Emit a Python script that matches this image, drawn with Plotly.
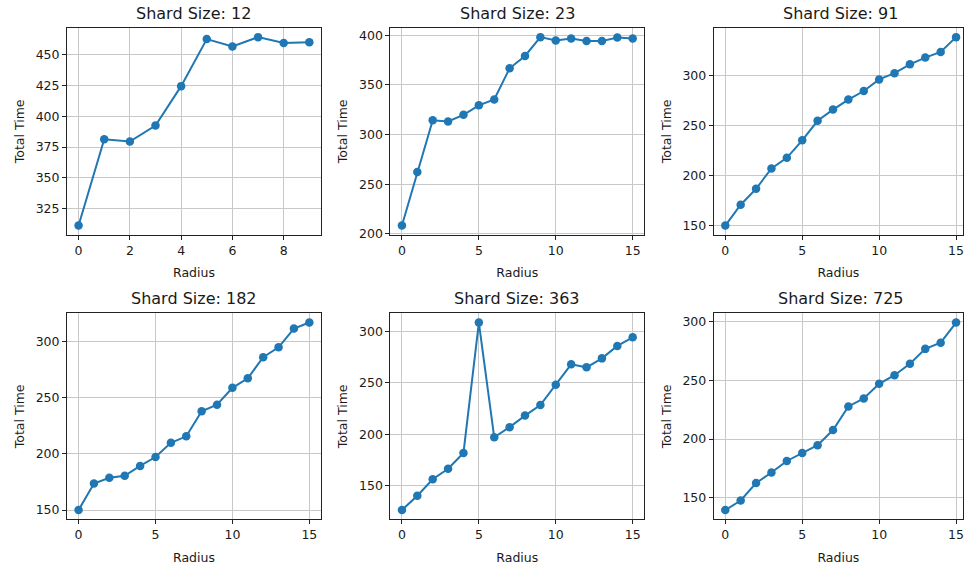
import plotly.graph_objects as go

W, H = 964, 571

shard_sizes = [12, 23, 91, 182, 363, 725]

radius_12 = list(range(10))
radius_16 = list(range(16))

time_12 = [311.4, 381.3, 379.5, 392.5, 424.4, 462.5, 456.6, 464.1, 459.3, 459.9]
time_23 = [208.4, 262.4, 314.4, 313.1, 319.8, 329.4, 335.3, 366.6, 379.1, 398.0,
           394.7, 396.7, 394.0, 394.0, 397.7, 396.7]
time_91 = [149.6, 170.5, 186.4, 206.9, 217.5, 235.0, 254.6, 265.8, 275.8, 284.4,
           296.0, 302.3, 311.2, 317.9, 323.5, 338.4]
time_182 = [150.0, 173.7, 178.7, 180.5, 189.3, 197.2, 209.8, 215.6, 237.9, 243.7,
            258.7, 267.2, 285.9, 294.7, 311.4, 316.7]
time_363 = [126.4, 140.4, 156.4, 166.6, 181.9, 308.6, 197.1, 207.0, 218.2, 228.4,
            248.2, 268.0, 265.1, 273.8, 285.9, 294.3]
time_725 = [139.6, 147.8, 162.6, 171.6, 181.4, 188.1, 194.8, 207.7, 227.8, 234.6,
            247.1, 254.4, 264.2, 276.8, 282.1, 299.2]

radii = [radius_12, radius_16, radius_16, radius_16, radius_16, radius_16]
times = [time_12, time_23, time_91, time_182, time_363, time_725]
x_dticks = [2, 5, 5, 5, 5, 5]
y_dticks = [25, 50, 50, 50, 50, 50]

# layout in pixels (matplotlib-like grid)
col_px = [(67.1, 321.2), (390.8, 644.9), (714.5, 968.6)]
row_px = [(28.0, 237.5), (316.5, 525.0)]

FONT = "DejaVu Sans"
TXT = "#1a1a1a"
BLUE = "#1f77b4"

fig = go.Figure()
for i in range(6):
    r, c = divmod(i, 3)
    n = i + 1
    xs, ys = radii[i], times[i]
    fig.add_trace(go.Scatter(
        x=xs, y=ys, mode="lines+markers",
        line=dict(color=BLUE, width=2),
        marker=dict(color=BLUE, size=8.5),
        xaxis=f"x{n}", yaxis=f"y{n}", showlegend=False,
        cliponaxis=False,
    ))
    x0p, x1p = col_px[c]
    y0p, y1p = row_px[r]
    xmin, xmax = min(xs), max(xs)
    xm = 0.05 * (xmax - xmin)
    xr = [xmin - xm, xmax + xm]
    x1p_clip = min(x1p, W)
    if x1p_clip < x1p:
        span = xr[1] - xr[0]
        xr = [xr[0], xr[0] + span * (x1p_clip - x0p) / (x1p - x0p)]
    ymin, ymax = min(ys), max(ys)
    ym = 0.05 * (ymax - ymin)
    yr = [ymin - ym, ymax + ym]
    common = dict(
        showline=True, mirror=True, linecolor="#222", linewidth=1,
        showgrid=True, gridcolor="#c8c8c8", gridwidth=1,
        ticks="outside", ticklen=4, tickwidth=1, tickcolor="#222",
        tickfont=dict(family=FONT, size=12.5, color=TXT),
        ticklabeloverflow="allow",
        zeroline=False,
    )
    fig.layout[f"xaxis{n}"] = dict(
        domain=[x0p / W, x1p_clip / W], range=xr, anchor=f"y{n}",
        dtick=x_dticks[i], tick0=0,
        title=dict(text="Radius", font=dict(family=FONT, size=12.5, color=TXT), standoff=11),
        **common,
    )
    fig.layout[f"yaxis{n}"] = dict(
        domain=[1 - y1p / H, 1 - y0p / H], range=yr, anchor=f"x{n}",
        dtick=y_dticks[i], tick0=0,
        title=dict(text="Total Time", font=dict(family=FONT, size=12.5, color=TXT), standoff=8),
        **common,
    )
    fig.add_annotation(
        text=f"Shard Size: {shard_sizes[i]}",
        xref="paper", yref="paper",
        x=(x0p + x1p) / 2 / W, y=1 - y0p / H,
        xanchor="center", yanchor="bottom", yshift=3,
        showarrow=False,
        font=dict(family=FONT, size=16, color=TXT),
    )

fig.update_layout(
    width=W, height=H,
    margin=dict(l=0, r=0, t=0, b=0),
    paper_bgcolor="white", plot_bgcolor="white",
    font=dict(family=FONT, color=TXT),
)

fig.write_html("out.html")
